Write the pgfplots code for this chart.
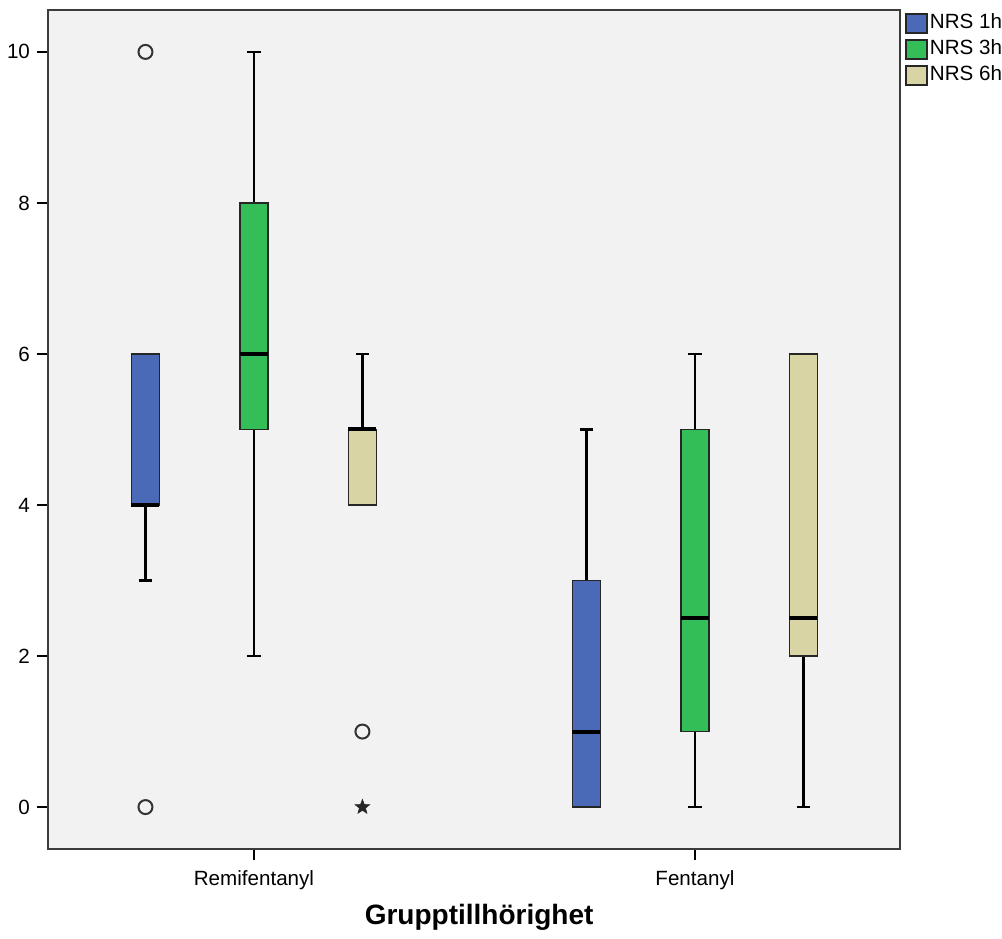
\documentclass[border=0pt]{standalone}
\usepackage{pgfplots}
\pgfplotsset{compat=1.18}
\usepgfplotslibrary{statistics}
\usetikzlibrary{plotmarks}
\usepackage{fontspec}
\setmainfont{Liberation Sans}
\definecolor{boxblue}{RGB}{74,106,183}
\definecolor{boxgreen}{RGB}{51,190,88}
\definecolor{boxtan}{RGB}{217,212,163}
\definecolor{bg}{RGB}{242,242,242}
\definecolor{frame}{RGB}{60,60,60}
\pgfdeclareplotmark{fstar}{%
  \pgfpathmoveto{\pgfpointpolar{90}{\pgfplotmarksize}}%
  \pgfpathlineto{\pgfpointpolar{126}{0.42\pgfplotmarksize}}%
  \pgfpathlineto{\pgfpointpolar{162}{\pgfplotmarksize}}%
  \pgfpathlineto{\pgfpointpolar{198}{0.42\pgfplotmarksize}}%
  \pgfpathlineto{\pgfpointpolar{234}{\pgfplotmarksize}}%
  \pgfpathlineto{\pgfpointpolar{270}{0.42\pgfplotmarksize}}%
  \pgfpathlineto{\pgfpointpolar{306}{\pgfplotmarksize}}%
  \pgfpathlineto{\pgfpointpolar{342}{0.42\pgfplotmarksize}}%
  \pgfpathlineto{\pgfpointpolar{18}{\pgfplotmarksize}}%
  \pgfpathlineto{\pgfpointpolar{54}{0.42\pgfplotmarksize}}%
  \pgfpathclose\pgfusepathqfillstroke}
\begin{document}
\begin{tikzpicture}
\useasboundingbox (-24pt,-44.5pt) rectangle (477pt,424.5pt);
\begin{axis}[
  scale only axis, width=426pt, height=419.5pt,
  xmin=0.533, xmax=2.465, ymin=-0.555, ymax=10.555,
  axis background/.style={fill=bg},
  axis line style={draw=frame, line width=1pt},
  xtick={1,2}, xticklabels={Remifentanyl,Fentanyl},
  ytick={0,2,4,6,8,10},
  xtick pos=bottom, ytick pos=left,
  tick align=outside, major tick length=5.5pt,
  tick style={black, line width=0.75pt},
  /pgf/number format/assume math mode=true,
  ticklabel style={font=\fontsize{10.3}{12}\selectfont},
  xticklabel style={yshift=-2pt},
  xlabel={\bfseries Grupptillhörighet},
  xlabel style={font=\fontsize{14}{16}\selectfont, at={(axis description cs:0.506,0)}, anchor=center, yshift=-34pt},
  legend style={at={(1,1)}, anchor=north west, xshift=2.5pt, draw=none, fill=none, inner sep=0pt,
    font=\fontsize{10.3}{12}\selectfont, row sep=0pt,
    nodes={inner sep=1pt, text height=7.5pt, text depth=2pt, minimum height=13pt}},
  legend cell align=left,
  legend image code/.code={\draw[#1, draw=black!85, line width=0.75pt] (0pt,-4.75pt) rectangle (10.5pt,4.75pt);},
  boxplot/draw direction=y,
  boxplot/every median/.style={draw=black, line width=2pt},
  boxplot/every whisker/.style={draw=black, line width=1.2pt},
]
\addlegendimage{fill=boxblue}\addlegendentry{NRS 1h}
\addlegendimage{fill=boxgreen}\addlegendentry{NRS 3h}
\addlegendimage{fill=boxtan}\addlegendentry{NRS 6h}
% Remifentanyl
\addplot[fill=boxblue, draw=black!85, line width=0.75pt, boxplot prepared={draw direction=y, draw position=0.754, lower whisker=3, lower quartile=4, median=4, upper quartile=6, upper whisker=6, box extend=0.0635, whisker extend=0.03}] coordinates {};
\addplot[fill=boxgreen, draw=black!85, line width=0.75pt, boxplot prepared={draw direction=y, draw position=1.0, lower whisker=2, lower quartile=5, median=6, upper quartile=8, upper whisker=10, box extend=0.0635, whisker extend=0.03}] coordinates {};
\addplot[fill=boxtan, draw=black!85, line width=0.75pt, boxplot prepared={draw direction=y, draw position=1.246, lower whisker=4, lower quartile=4, median=5, upper quartile=5, upper whisker=6, box extend=0.0635, whisker extend=0.03}] coordinates {};
% Fentanyl
\addplot[fill=boxblue, draw=black!85, line width=0.75pt, boxplot prepared={draw direction=y, draw position=1.754, lower whisker=0, lower quartile=0, median=1, upper quartile=3, upper whisker=5, box extend=0.0635, whisker extend=0.03}] coordinates {};
\addplot[fill=boxgreen, draw=black!85, line width=0.75pt, boxplot prepared={draw direction=y, draw position=2.0, lower whisker=0, lower quartile=1, median=2.5, upper quartile=5, upper whisker=6, box extend=0.0635, whisker extend=0.03}] coordinates {};
\addplot[fill=boxtan, draw=black!85, line width=0.75pt, boxplot prepared={draw direction=y, draw position=2.246, lower whisker=0, lower quartile=2, median=2.5, upper quartile=6, upper whisker=6, box extend=0.0635, whisker extend=0.03}] coordinates {};
% outliers
\addplot[only marks, mark=o, mark size=3.5pt, mark options={draw=black!80, line width=1pt}] coordinates {(0.754,10) (0.754,0) (1.246,1)};
\addplot[only marks, mark=fstar, mark size=3.8pt, mark options={draw=black!85, fill=black!85, line width=0.3pt}] coordinates {(1.246,0)};
\end{axis}
\end{tikzpicture}
\end{document}
